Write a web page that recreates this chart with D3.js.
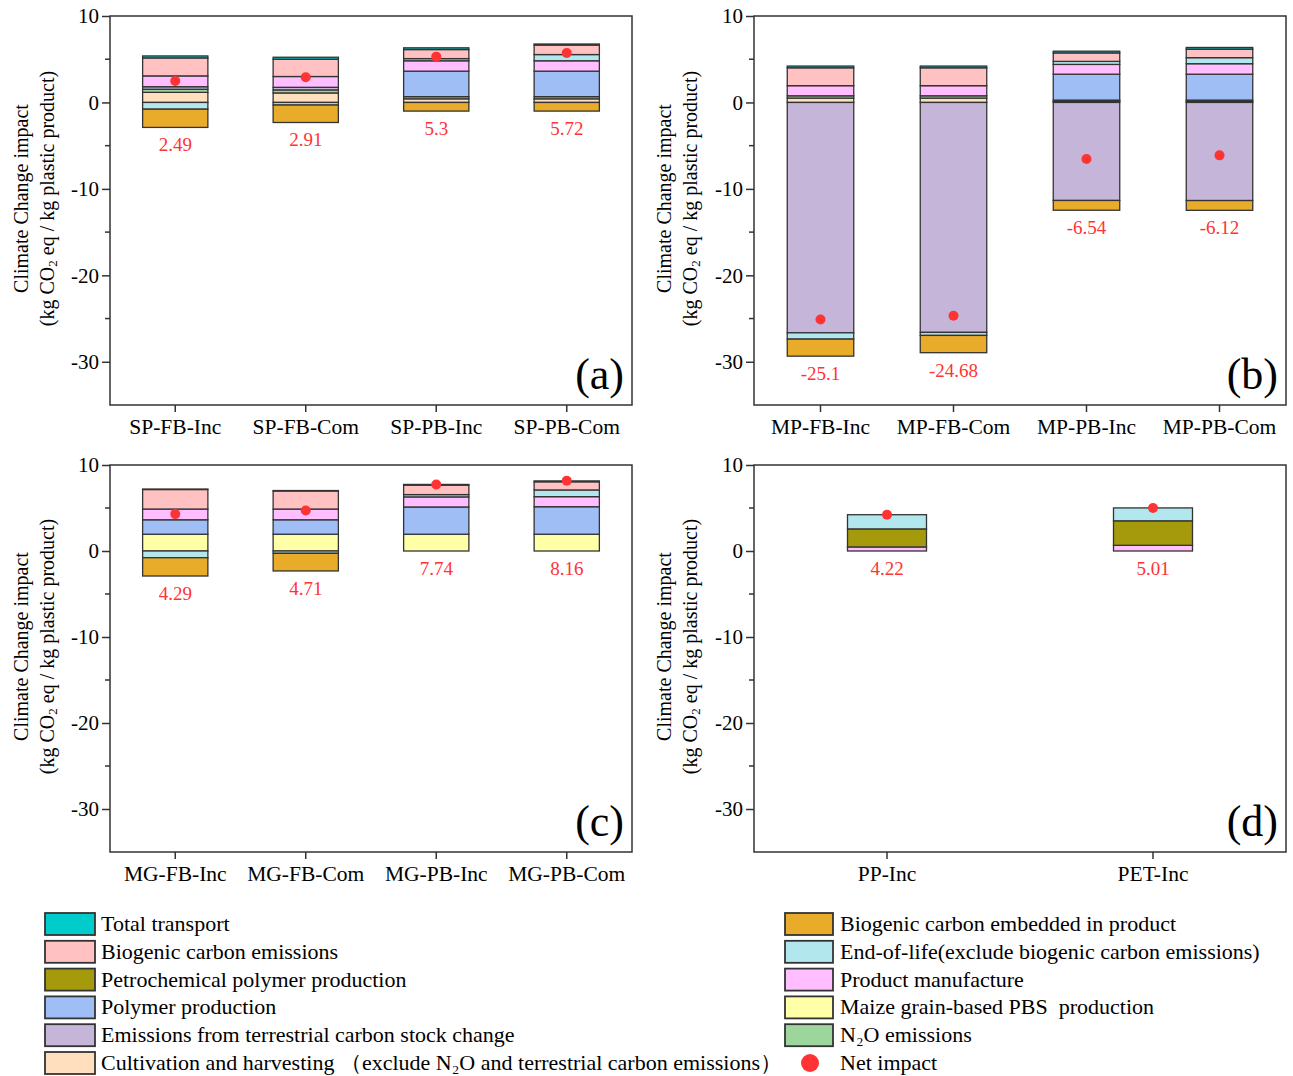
<!DOCTYPE html>
<html>
<head>
<meta charset="utf-8">
<script src="https://cdn.jsdelivr.net/npm/d3@7"></script>
<style>
  body { margin: 0; background: #fff; }
  text { font-family: "Liberation Serif", "Times New Roman", serif; white-space: pre; }
</style>
</head>
<body>
<script>
// categories per panel
const catsA = ["SP-FB-Inc", "SP-FB-Com", "SP-PB-Inc", "SP-PB-Com"];
const catsB = ["MP-FB-Inc", "MP-FB-Com", "MP-PB-Inc", "MP-PB-Com"];
const catsC = ["MG-FB-Inc", "MG-FB-Com", "MG-PB-Inc", "MG-PB-Com"];
const catsD = ["PP-Inc", "PET-Inc"];

// component values, one per bar (a, b, c, d in order)
const cultivation = [1.17, 1.1, 0.42, 0.42, 0.5, 0.5, 0.12, 0.12, 0, 0, 0, 0, 0, 0];
const maizePBS    = [0, 0, 0, 0, 0, 0, 0, 0, 1.95, 1.95, 1.95, 1.95, 0, 0];
const n2o         = [0.35, 0.35, 0.25, 0.25, 0.27, 0.27, 0.15, 0.15, 0, 0, 0, 0, 0, 0];
const terrestrial = [0.3, 0.3, 0, 0, -26.65, -26.6, -11.34, -11.35, 0, 0, 0, 0, 0, 0];
const polymer     = [0, 0, 2.95, 2.95, 0, 0, 3.0, 3.0, 1.68, 1.68, 3.17, 3.2, 0, 0];
const productMfg  = [1.25, 1.25, 1.2, 1.2, 1.17, 1.17, 1.13, 1.21, 1.25, 1.25, 1.17, 1.17, 0.47, 0.66];
const petrochem   = [0, 0, 0, 0, 0, 0, 0, 0, 0, 0, 0, 0, 2.1, 2.85];
const endOfLife   = [-0.78, -0.3, 0.25, 0.72, -0.73, -0.35, 0.35, 0.7, -0.78, -0.27, 0.27, 0.78, 1.65, 1.5];
const embedded    = [-2.11, -2.02, -1.0, -1.0, -1.97, -2.0, -1.13, -1.13, -2.13, -2.05, 0, 0, 0, 0];
const biogenicEm  = [2.08, 2.0, 1.05, 1.1, 2.07, 2.07, 0.98, 0.98, 2.27, 2.1, 1.1, 0.95, 0, 0];
const transport   = [0.23, 0.23, 0.2, 0.12, 0.2, 0.2, 0.2, 0.2, 0.05, 0.05, 0.08, 0.1, 0, 0];

const netImpact = [2.49, 2.91, 5.3, 5.72, -25.1, -24.68, -6.54, -6.12, 4.29, 4.71, 7.74, 8.16, 4.22, 5.01];
const yTicks = [10, 0, -10, -20, -30];

// stacking order bottom -> top
const series = [
  {key: "cultivation", values: cultivation, color: "#FFDFBE"},
  {key: "maizePBS", values: maizePBS, color: "#FFFFA8"},
  {key: "n2o", values: n2o, color: "#9CD69C"},
  {key: "terrestrial", values: terrestrial, color: "#C5B5D8"},
  {key: "polymer", values: polymer, color: "#9FBEF5"},
  {key: "productMfg", values: productMfg, color: "#FFBEFF"},
  {key: "petrochem", values: petrochem, color: "#A59A0B"},
  {key: "endOfLife", values: endOfLife, color: "#B3E7EE"},
  {key: "embedded", values: embedded, color: "#E8AB2A"},
  {key: "biogenicEm", values: biogenicEm, color: "#FFC1C1"},
  {key: "transport", values: transport, color: "#00CCCC"}
];
const colorOf = {};
series.forEach(s => colorOf[s.key] = s.color);

const legendLeft = [
  ["transport", "Total transport"],
  ["biogenicEm", "Biogenic carbon emissions"],
  ["petrochem", "Petrochemical polymer production"],
  ["polymer", "Polymer production"],
  ["terrestrial", "Emissions from terrestrial carbon stock change"],
  ["cultivation", "Cultivation and harvesting （exclude N₂O and terrestrial carbon emissions）"]
];
const legendRight = [
  ["embedded", "Biogenic carbon embedded in product"],
  ["endOfLife", "End-of-life(exclude biogenic carbon emissions)"],
  ["productMfg", "Product manufacture"],
  ["maizePBS", "Maize grain-based PBS  production"],
  ["n2o", "N₂O emissions"]
];

const W = 1293, H = 1076;
const svg = d3.select("body").append("svg")
  .attr("width", W).attr("height", H);

const panels = [
  {cats: catsA, offset: 0, x0: 110, x1: 632, y0: 16, y1: 405, pad: 0.5, tag: "(a)", tx: 22},
  {cats: catsB, offset: 4, x0: 754, x1: 1286, y0: 16, y1: 405, pad: 0.5, tag: "(b)", tx: 665},
  {cats: catsC, offset: 8, x0: 110, x1: 632, y0: 465, y1: 852, pad: 0.5, tag: "(c)", tx: 22},
  {cats: catsD, offset: 12, x0: 754, x1: 1286, y0: 465, y1: 852, pad: 0.703, tag: "(d)", tx: 665}
];

const stroke = "#333";

panels.forEach(p => {
  const rows = p.cats.map((c, i) => {
    const r = {cat: c, idx: p.offset + i};
    series.forEach(s => r[s.key] = s.values[p.offset + i]);
    return r;
  });

  const x = d3.scaleBand().domain(p.cats).range([p.x0, p.x1])
    .paddingInner(p.pad).paddingOuter(p.pad / 2);
  const y = d3.scaleLinear().domain([-35, 10]).range([p.y1, p.y0]);

  const stacked = d3.stack()
    .keys(series.map(s => s.key))
    .offset(d3.stackOffsetDiverging)(rows);

  const g = svg.append("g");

  // bars
  stacked.forEach(layer => {
    g.selectAll(null)
      .data(layer.filter(d => Math.abs(d[1] - d[0]) > 1e-9))
      .enter().append("rect")
      .attr("x", d => x(d.data.cat))
      .attr("width", x.bandwidth())
      .attr("y", d => y(Math.max(d[0], d[1])))
      .attr("height", d => Math.abs(y(d[0]) - y(d[1])))
      .attr("fill", colorOf[layer.key])
      .attr("stroke", stroke)
      .attr("stroke-width", 1.3);
  });

  // net impact dots and labels
  const bottomOf = r => d3.sum(series, s => Math.min(r[s.key], 0));
  g.selectAll(null).data(rows).enter().append("circle")
    .attr("cx", d => x(d.cat) + x.bandwidth() / 2)
    .attr("cy", d => y(netImpact[d.idx]))
    .attr("r", 5)
    .attr("fill", "#FF3333");

  g.selectAll(null).data(rows).enter().append("text")
    .attr("x", d => x(d.cat) + x.bandwidth() / 2)
    .attr("y", d => y(bottomOf(d)) + 24)
    .attr("text-anchor", "middle")
    .attr("font-size", 19)
    .attr("fill", "#FF3333")
    .text(d => String(netImpact[d.idx]));

  // frame
  g.append("rect")
    .attr("x", p.x0).attr("y", p.y0)
    .attr("width", p.x1 - p.x0).attr("height", p.y1 - p.y0)
    .attr("fill", "none").attr("stroke", stroke).attr("stroke-width", 1.5);

  // y axis
  const yAxis = g.append("g")
    .attr("transform", `translate(${p.x0},0)`)
    .call(d3.axisLeft(y).tickValues(yTicks).tickSize(8).tickPadding(3).tickFormat(d => String(d)));
  yAxis.select(".domain").remove();
  yAxis.selectAll("line").attr("stroke", stroke).attr("stroke-width", 1.5);
  yAxis.selectAll("text").attr("font-size", 21).attr("fill", "#000")
    .style("font-family", "Liberation Serif, serif");

  // minor ticks
  g.selectAll(null).data([5, -5, -15, -25]).enter().append("line")
    .attr("x1", p.x0 - 5).attr("x2", p.x0)
    .attr("y1", d => y(d)).attr("y2", d => y(d))
    .attr("stroke", stroke).attr("stroke-width", 1.5);

  // x axis
  const xAxis = g.append("g")
    .attr("transform", `translate(0,${p.y1})`)
    .call(d3.axisBottom(x).tickSize(7).tickPadding(7));
  xAxis.select(".domain").remove();
  xAxis.selectAll("line").attr("stroke", stroke).attr("stroke-width", 1.5);
  xAxis.selectAll("text").attr("font-size", 21.5).attr("fill", "#000")
    .style("font-family", "Liberation Serif, serif");

  // y title
  const cy = (p.y0 + p.y1) / 2 - 12;
  g.append("text")
    .attr("transform", `translate(${p.tx + 6},${cy}) rotate(-90)`)
    .attr("text-anchor", "middle").attr("font-size", 20)
    .text("Climate Change impact");
  const t2 = g.append("text")
    .attr("transform", `translate(${p.tx + 32},${cy}) rotate(-90)`)
    .attr("text-anchor", "middle").attr("font-size", 20);
  t2.append("tspan").text("(kg CO");
  t2.append("tspan").attr("font-size", 13).attr("dy", 3).text("2");
  t2.append("tspan").attr("dy", -3).text(" eq / kg plastic product)");

  // panel tag
  g.append("text")
    .attr("x", p.x1 - 8).attr("y", p.y1 - 16)
    .attr("text-anchor", "end").attr("font-size", 44)
    .text(p.tag);
});

// legend
const leg = svg.append("g");
function legendColumn(items, sx, tx, sw) {
  items.forEach((it, i) => {
    const cy = 924 + i * 27.8;
    leg.append("rect")
      .attr("x", sx).attr("y", cy - 11).attr("width", sw).attr("height", 22)
      .attr("fill", colorOf[it[0]]).attr("stroke", stroke).attr("stroke-width", 1.8);
    leg.append("text")
      .attr("x", tx).attr("y", cy + 7).attr("font-size", 22)
      .text(it[1]);
  });
}
legendColumn(legendLeft, 45, 101, 50);
legendColumn(legendRight, 785, 840, 48);
leg.append("circle").attr("cx", 810).attr("cy", 924 + 5 * 27.8).attr("r", 9).attr("fill", "#FF3333");
leg.append("text").attr("x", 840).attr("y", 924 + 5 * 27.8 + 7).attr("font-size", 22).text("Net impact");
</script>
</body>
</html>
